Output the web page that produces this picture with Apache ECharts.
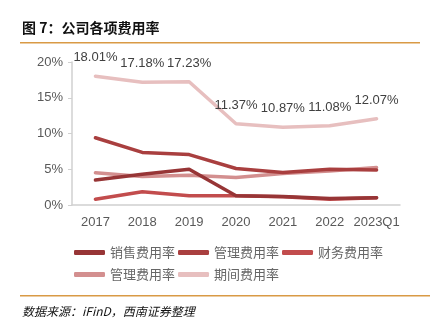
<!DOCTYPE html>
<html><head><meta charset="utf-8">
<script src="https://cdn.jsdelivr.net/npm/echarts@6/dist/echarts.min.js"></script>
<style>html,body{margin:0;padding:0;background:#fff}#c{width:435px;height:334px}</style>
</head><body><div id="c"></div>
<script>
var categories = ['2017','2018','2019','2020','2021','2022','2023Q1'];
var salesRate = [3.5, 4.3, 5.0, 1.3, 1.2, 0.9, 1.0];
var mgmtRate = [9.4, 7.35, 7.05, 5.1, 4.55, 5.0, 4.9];
var finRate = [0.8, 1.85, 1.3, 1.3, 1.15, 0.8, 1.0];
var mgmtRate2 = [4.5, 4.0, 4.15, 3.85, 4.4, 4.75, 5.25];
var periodRate = [18.01, 17.18, 17.23, 11.37, 10.87, 11.08, 12.07];
var yTicks = [0, 5, 10, 15, 20];
var seriesNames = ['销售费用率','管理费用率','财务费用率','管理费用率\u200b','期间费用率'];
var colors = ['#973536','#a93f3f','#c24c4d','#d38f8f','#e7bfbf'];

var chart = echarts.init(document.getElementById('c'), null, {renderer:'canvas'});
var font = '"Liberation Sans", Arial, "Noto Sans CJK SC", sans-serif';
function mk(i, data, extra){
  var s = {name: seriesNames[i], type:'line', data:data, symbol:'circle', symbolSize:2, showSymbol:true, z: 10 - i,
    lineStyle:{width:3.5, color:colors[i], cap:'round', join:'round'}, itemStyle:{color:colors[i]}};
  if (extra) for (var k in extra) s[k]=extra[k];
  return s;
}
chart.setOption({
  animation:false,
  textStyle:{fontFamily:font},
  graphic:[
    {type:'text', left:22, top:21, style:{text:'图 7：公司各项费用率', font:'bold 14px "Noto Sans CJK SC", sans-serif', fill:'#111'}},
    {type:'rect', shape:{x:20, y:42, width:400, height:1.5}, style:{fill:'#d99a45'}},
    {type:'rect', shape:{x:20, y:295, width:410, height:1.5}, style:{fill:'#d99a45'}},
    {type:'text', left:22, top:305, style:{text:'数据来源：iFinD，西南证券整理', font:'italic 12px "Noto Sans CJK SC", sans-serif', fill:'#111'}}
  ],
  grid:{left:72, right:35, top:62, bottom:129},
  legend:{left:69, top:238, width:330, itemGap:3, itemWidth:31, itemHeight:5, icon:'roundRect',
    data:seriesNames,
    formatter:function(n){return n.replace('\u200b','');},
    textStyle:{fontSize:13, color:'#666', lineHeight:19, fontFamily:'"Noto Sans CJK SC", sans-serif'}},
  xAxis:{type:'category', data:categories, boundaryGap:true,
    axisLine:{lineStyle:{color:'#d0d0d0', width:1.5}}, axisTick:{show:false},
    axisLabel:{fontSize:13, color:'#595959', margin:11, interval:0}},
  yAxis:{type:'value', min:0, max:20, interval:5,
    axisLine:{show:true, lineStyle:{color:'#d0d0d0', width:1.5}},
    axisTick:{show:true, length:4, lineStyle:{color:'#d0d0d0'}},
    splitLine:{show:false},
    axisLabel:{fontSize:13, color:'#595959', margin:9, formatter:function(v){return v+'%';}}},
  series:[
    mk(4, periodRate, {label:{show:true, position:'top', distance:11, fontSize:13, color:'#404040', formatter:function(p){return Number(p.value).toFixed(2)+'%';}}}),
    mk(3, mgmtRate2),
    mk(1, mgmtRate),
    mk(0, salesRate),
    mk(2, finRate)
  ]
});
</script></body></html>
